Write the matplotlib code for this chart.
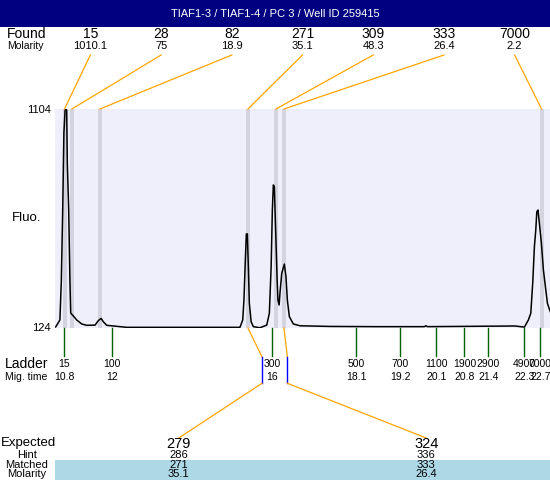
import matplotlib
matplotlib.use("Agg")
import matplotlib.pyplot as plt
from matplotlib.patches import Rectangle

plt.rcParams['font.family'] = ['Liberation Sans', 'DejaVu Sans']

title = "TIAF1-3 / TIAF1-4 / PC 3 / Well ID 259415"

# electropherogram trace: migration time (s) and fluorescence
trace_time = [10.57, 10.59, 10.69, 10.725, 10.76, 10.79, 10.82, 10.84, 10.86, 10.875,
              10.91, 10.94, 10.96, 11.025, 11.11, 11.235, 11.36, 11.57, 11.65, 11.72,
              11.775, 11.86, 12.025, 12.36, 15.19, 15.26, 15.29, 15.325, 15.35, 15.375,
              15.4, 15.425, 15.47, 15.525, 15.69, 15.86, 15.925, 15.97, 16.0, 16.025,
              16.05, 16.085, 16.12, 16.14, 16.17, 16.19, 16.235, 16.3, 16.34, 16.375,
              16.425, 16.525, 16.69, 17.44, 18.59, 19.8, 19.84, 19.88, 22.06, 22.3,
              22.4, 22.46, 22.51, 22.55, 22.585, 22.61, 22.64, 22.675, 22.725, 22.775,
              22.825, 22.875, 22.925, 22.97]
trace_fluo = [128, 130, 160, 331, 652, 997, 1100, 1104, 1100, 862,
              652, 339, 191, 178, 160, 142, 136, 137, 157, 167,
              152, 136, 133, 127, 127, 160, 249, 428, 545, 545,
              398, 235, 152, 130, 125, 137, 190, 398, 652, 764,
              756, 548, 339, 249, 227, 279, 369, 410, 354, 249,
              175, 142, 134, 131, 130, 130, 134, 130, 133, 128,
              160, 190, 331, 488, 563, 644, 652, 592, 503, 384,
              309, 235, 208, 187]

found_size = ["15", "28", "82", "271", "309", "333", "7000"]
found_molarity = ["1010.1", "75", "18.9", "35.1", "48.3", "26.4", "2.2"]
found_time = [10.805, 10.99, 11.69, 15.39, 16.09, 16.29, 22.73]

ladder_size = ["15", "100", "300", "500", "700", "1100", "1900", "2900", "4900", "7000"]
ladder_time = [10.8, 12, 16, 18.1, 19.2, 20.1, 20.8, 21.4, 22.3, 22.7]

expected_size = ["279", "324"]
expected_hint = ["286", "336"]
expected_matched = ["271", "333"]
expected_molarity = ["35.1", "26.4"]
expected_time = [15.74, 16.375]
matched_time = [15.39, 16.29]

fmin, fmax = 124, 1104
tmin, tmax = 10.5675, 22.94

fig = plt.figure(figsize=(5.5, 4.8), dpi=100)
ax = fig.add_axes([55 / 550, 152 / 480, 495 / 550, 219 / 480])
ax.set_facecolor('#EFEFFB')
ax.set_xlim(tmin, tmax)
ax.set_ylim(fmin, fmax)
for s in ax.spines.values():
    s.set_visible(False)
ax.set_xticks([])
ax.set_yticks([])

for t in found_time:
    ax.axvspan(t - 0.05, t + 0.05, color='#D4D4E0', lw=0, zorder=1)
ax.plot(trace_time, trace_fluo, color='black', lw=1.1, zorder=3)

# overlay in pixel coordinates for the annotation rows
ov = fig.add_axes([0, 0, 1, 1], zorder=5)
ov.set_xlim(0, 550)
ov.set_ylim(480, 0)
ov.axis('off')
ov.patch.set_alpha(0)


def px(t, f):
    d = ax.transData.transform((t, f))
    return ov.transData.inverted().transform(d)


ov.add_patch(Rectangle((0, 0), 550, 27, color='#000080', lw=0))
ov.text(275, 14, title, color='white', fontsize=8, ha='center', va='center')

# found row
ov.text(7, 34, "Found", fontsize=10, ha='left', va='center')
ov.text(7, 46, "Molarity", fontsize=7.5, ha='left', va='center')
n = len(found_size)
for i in range(n):
    cx = 55 + 495 * (i + 0.5) / n
    ov.text(cx, 34, found_size[i], fontsize=10, ha='center', va='center')
    ov.text(cx, 46, found_molarity[i], fontsize=8, ha='center', va='center')
    bx, by = px(found_time[i], fmax)
    ov.plot([cx, bx], [55, by], color='#FFA500', lw=0.9)

# y labels
ov.text(51, 110, str(fmax), fontsize=8, ha='right', va='center')
ov.text(51, 328, str(fmin), fontsize=8, ha='right', va='center')
ov.text(12, 218, "Fluo.", fontsize=9.5, ha='left', va='center')

# ladder row
ov.text(5, 364, "Ladder", fontsize=10, ha='left', va='center')
ov.text(5, 377, "Mig. time", fontsize=7.5, ha='left', va='center')
for s, t in zip(ladder_size, ladder_time):
    lx, ly = px(t, fmin)
    ov.plot([lx, lx], [ly, 356], color='#006400', lw=1.0)
    ov.text(lx, 364, s, fontsize=7.5, ha='center', va='center')
    ov.text(lx, 377, f"{t:g}", fontsize=7.5, ha='center', va='center')

# expected / matched rows
ov.add_patch(Rectangle((55, 460), 495, 20, color='#ADD8E6', lw=0))
ov.text(1, 443, "Expected", fontsize=9.5, ha='left', va='center')
ov.text(27, 455, "Hint", fontsize=8, ha='center', va='center')
ov.text(27, 465, "Matched", fontsize=8, ha='center', va='center')
ov.text(27, 474, "Molarity", fontsize=8, ha='center', va='center')
m = len(expected_size)
for i in range(m):
    cx = 55 + 495 * (i + 0.5) / m
    mx, my = px(matched_time[i], fmin)
    ex, _ = px(expected_time[i], fmin)
    ov.plot([mx, ex], [my, 356.7], color='#FFA500', lw=0.9)
    ov.plot([ex, ex], [356.7, 383.3], color='#0000FF', lw=1.0)
    ov.plot([ex, cx], [383.3, 438], color='#FFA500', lw=0.9)
    ov.text(cx, 444, expected_size[i], fontsize=10.5, ha='center', va='center')
    ov.text(cx, 455, expected_hint[i], fontsize=8, ha='center', va='center')
    ov.text(cx, 465, expected_matched[i], fontsize=8, ha='center', va='center')
    ov.text(cx, 474, expected_molarity[i], fontsize=8, ha='center', va='center')

fig.savefig("out.png", dpi=100)
